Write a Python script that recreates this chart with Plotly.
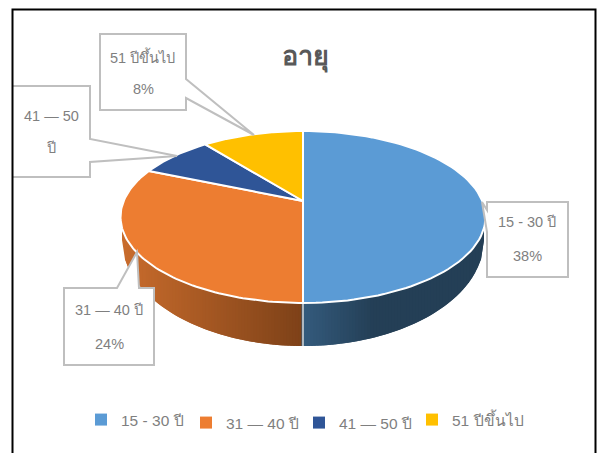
import numpy as np
import plotly.graph_objects as go

categories = ["15 - 30 ปี", "31 — 40 ปี", "41 — 50 ปี", "51 ปีขึ้นไป"]
drawn_share = [50, 34, 7, 9]
colors = ["#5B9BD5", "#ED7D31", "#2F5597", "#FFC000"]

FONT = "Liberation Sans, Noto Sans, DejaVu Sans, sans-serif"
CX, CY, RX, RY = 303, 217, 182.5, 86
APEX_Y = 201
WCY, WRX, WRY = 240, 181, 106


def top(t):
    r = np.radians(t)
    return CX + RX * np.sin(r), CY - RY * np.cos(r)


def hexmix(a, b, f):
    a = [int(a[i:i + 2], 16) for i in (1, 3, 5)]
    b = [int(b[i:i + 2], 16) for i in (1, 3, 5)]
    return "#" + "".join(f"{round(p + (q - p) * f):02x}" for p, q in zip(a, b))


fig = go.Figure()


def wall_y(x):
    return WCY + WRY * np.sqrt(np.clip(1 - ((x - CX) / WRX) ** 2, 0, 1))


def top_y(x):
    return CY + RY * np.sqrt(np.clip(1 - ((x - CX) / RX) ** 2, 0, 1))


# Side wall strips, each overlapping the next so no seams show
edges = np.linspace(CX - WRX, CX + WRX, 122)
for i in range(len(edges) - 1):
    x0 = edges[i]
    x1 = edges[min(i + 2, len(edges) - 1)]
    xmid = edges[i + 1]
    xm = (x0 + edges[i + 1]) / 2
    if xm < CX:
        col = hexmix("#C96C2C", "#7D4118", (xm - (CX - WRX)) / WRX)
    else:
        col = hexmix("#345B7D", "#243F56", min((xm - CX) / 70, 1))
    xs = [x0, xmid, x1, x1, xmid, x0, x0]
    ys = [top_y(x0) - 3, top_y(xmid) - 3, top_y(x1) - 3, wall_y(x1), wall_y(xmid), wall_y(x0), top_y(x0) - 3]
    fig.add_trace(go.Scatter(x=xs, y=ys, mode="lines", fill="toself", fillcolor=col,
                             line=dict(width=0), hoverinfo="skip", showlegend=False))

fig.add_trace(go.Scatter(x=[CX, CX], y=[CY + RY, WCY + WRY], mode="lines",
                         line=dict(color="#D9D9D9", width=1.5), hoverinfo="skip", showlegend=False))

# Top face
start = 0
for name, share, col in zip(categories, drawn_share, colors):
    end = start + share * 3.6
    t = np.linspace(start, end, 90)
    ax, ay = top(t)
    fig.add_trace(go.Scatter(x=[CX, *ax, CX], y=[APEX_Y, *ay, APEX_Y], mode="lines", fill="toself",
                             fillcolor=col, line=dict(color="white", width=2),
                             name=name, hoverinfo="skip", showlegend=False))
    start = end

# Legend entries: one legend per entry, for the reference's uneven spacing
legend_ids = ["legend", "legend2", "legend3", "legend4"]
for name, col, lid in zip(categories, colors, legend_ids):
    fig.add_trace(go.Scatter(x=[None], y=[None], mode="markers", name=name, legend=lid,
                             marker=dict(symbol="square", size=8, color=col)))

callouts = [
    "M100,34 L186,34 L186,79 L254,135 L186,98 L186,110 L100,110 Z",
    "M13,86 L90,86 L90,139 L177,156 L90,162 L90,177 L13,177",
    "M487,202 L568,202 L568,277 L487,277 L487,232 L482,202 L487,210 Z",
    "M64,288 L117,288 L137,252 L139,288 L154,288 L154,365 L64,365 Z",
]
shapes = [dict(type="path", path=p, fillcolor="white", line=dict(color="#BFBFBF", width=2), layer="above")
          for p in callouts]
shapes.append(dict(type="path", path="M12.5,453 L12.5,9.5 L595.5,9.5 L595.5,453",
                   line=dict(color="black", width=2), layer="above"))

labels = [
    ("51 ปีขึ้นไป", 142, 56), ("8%", 143, 89),
    ("41 — 50", 51, 116), ("ปี", 51, 148),
    ("15 - 30 ปี", 527, 222), ("38%", 527, 256),
    ("31 — 40 ปี", 109, 310), ("24%", 109, 344),
]
annotations = [dict(x=x, y=y, text=t, showarrow=False, xanchor="center", yanchor="middle",
                    font=dict(family=FONT, size=14.5, color="#7F7F7F")) for t, x, y in labels]

legend_pos = [(81, 420), (186, 423), (299, 423), (412, 420)]
legends = {lid: dict(orientation="h", x=px / 603, y=1 - py / 453, xanchor="left", yanchor="middle",
                     font=dict(family=FONT, size=15.5, color="#7F7F7F"), bgcolor="rgba(0,0,0,0)",
                     itemsizing="constant")
           for lid, (px, py) in zip(legend_ids, legend_pos)}

fig.update_layout(
    width=603, height=453, margin=dict(l=0, r=0, t=0, b=0), autosize=False,
    paper_bgcolor="white", plot_bgcolor="white",
    title=dict(text="<b>อายุ</b>", x=305 / 603, y=1 - 56 / 453, xanchor="center", yanchor="middle",
               font=dict(family=FONT, size=27, color="#595959")),
    xaxis=dict(range=[0, 603], visible=False, fixedrange=True),
    yaxis=dict(range=[453, 0], visible=False, fixedrange=True),
    shapes=shapes, annotations=annotations, **legends,
)
fig.write_html("out.html", config={"displayModeBar": False},
               post_script="document.body.style.margin='0';document.documentElement.style.overflow='hidden';")
